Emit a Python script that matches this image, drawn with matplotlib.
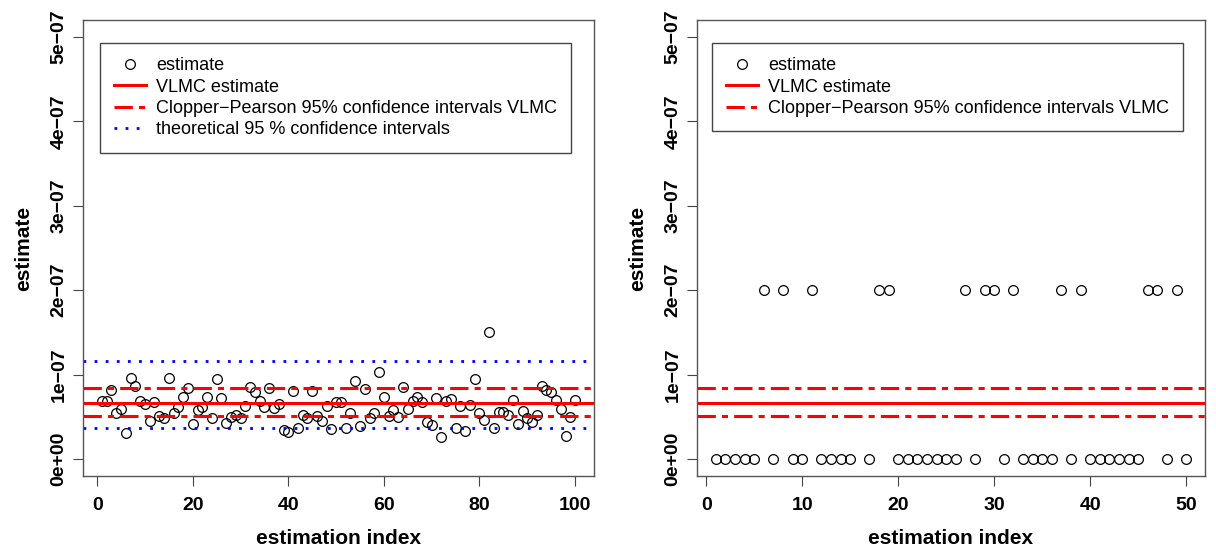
import matplotlib
matplotlib.use("Agg")
import matplotlib.pyplot as plt
from matplotlib.lines import Line2D

plt.rcParams['font.family'] = ['Liberation Sans', 'DejaVu Sans']

# ---------------- data ----------------
left_index = list(range(1, 101))
left_estimate = [
    0.692, 0.692, 0.816, 0.547, 0.597, 0.311, 0.966, 0.862, 0.692, 0.655,
    0.456, 0.671, 0.510, 0.481, 0.966, 0.551, 0.613, 0.734, 0.841, 0.414,
    0.584, 0.613, 0.734, 0.485, 0.949, 0.729, 0.427, 0.497, 0.526, 0.485,
    0.634, 0.850, 0.800, 0.692, 0.617, 0.841, 0.601, 0.655, 0.344, 0.323,
    0.808, 0.365, 0.526, 0.485, 0.808, 0.510, 0.456, 0.634, 0.352, 0.671,
    0.671, 0.373, 0.551, 0.920, 0.398, 0.825, 0.485, 0.543, 1.032, 0.738,
    0.506, 0.584, 0.493, 0.858, 0.588, 0.684, 0.734, 0.676, 0.443, 0.402,
    0.729, 0.261, 0.692, 0.709, 0.373, 0.634, 0.336, 0.642, 0.949, 0.543,
    0.468, 1.500, 0.373, 0.555, 0.555, 0.522, 0.705, 0.410, 0.572, 0.485,
    0.435, 0.522, 0.870, 0.816, 0.792, 0.700, 0.597, 0.278, 0.497, 0.705,
]
left_estimate = [v * 1e-7 for v in left_estimate]
left_vlmc = 0.66e-7
left_cp_low, left_cp_high = 0.507e-7, 0.838e-7
left_theo_low, left_theo_high = 0.373e-7, 1.156e-7

right_index = list(range(1, 51))
right_estimate = [
    0, 0, 0, 0, 0, 2, 0, 2, 0, 0,
    2, 0, 0, 0, 0, 4, 0, 2, 2, 0,
    0, 0, 0, 0, 0, 0, 2, 0, 2, 2,
    0, 2, 0, 0, 0, 0, 2, 0, 2, 0,
    0, 0, 0, 0, 0, 2, 2, 0, 2, 0,
]
right_estimate = [v * 1e-7 for v in right_estimate]
right_vlmc = 0.666e-7
right_cp_low, right_cp_high = 0.512e-7, 0.840e-7

y_ticks = [0, 1e-7, 2e-7, 3e-7, 4e-7, 5e-7]
y_ticklabels = ["0e+00", "1e\u221207", "2e\u221207", "3e\u221207", "4e\u221207", "5e\u221207"]
left_xticks = [0, 20, 40, 60, 80, 100]
right_xticks = [0, 10, 20, 30, 40, 50]

lbl_est = "estimate"
lbl_vlmc = "VLMC estimate"
lbl_cp = "Clopper\u2212Pearson 95% confidence intervals VLMC"
lbl_theo = "theoretical 95 % confidence intervals"

# ---------------- style ----------------
W, H = 1216, 549
fig = plt.figure(figsize=(W / 100, H / 100), dpi=100)

def px_axes(x0, x1, y0, y1):
    return fig.add_axes([x0 / W, 1 - y1 / H, (x1 - x0) / W, (y1 - y0) / H])

ax1 = px_axes(83, 594, 20, 476)
ax2 = px_axes(697, 1205, 20, 476)

dashdot = (0, (6, 2, 2, 2))
dotted = (0, (1, 3))
tick_fs = 14
lab_fs = 15
leg_fs = 13

def style(ax, xticks, n):
    ax.set_xlim(1 - 0.04 * (n - 1), n + 0.04 * (n - 1))
    ax.set_ylim(-0.2e-7, 5.2e-7)
    ax.set_xticks(xticks)
    ax.set_xticklabels([str(t) for t in xticks], fontsize=tick_fs, fontweight='bold')
    ax.set_yticks(y_ticks)
    ax.set_yticklabels(y_ticklabels, fontsize=tick_fs, fontweight='bold',
                       rotation=90, va='center')
    ax.tick_params(length=7, width=0.8, color='#444444')
    ax.tick_params(axis='x', pad=8)
    ax.tick_params(axis='y', pad=4)
    for s in ax.spines.values():
        s.set_color('#555555')
        s.set_linewidth(1.0)
    ax.set_xlabel("estimation index", fontsize=lab_fs, fontweight='bold', labelpad=11)
    ax.set_ylabel("estimate", fontsize=lab_fs, fontweight='bold', labelpad=13)

# left
ax1.plot(left_index, left_estimate, 'o', mfc='none', mec='black', ms=7, mew=0.9)
ax1.axhline(left_vlmc, color='red', lw=2.2)
ax1.axhline(left_cp_low, color='red', lw=2.2, ls=dashdot)
ax1.axhline(left_cp_high, color='red', lw=2.2, ls=dashdot)
ax1.axhline(left_theo_low, color='blue', lw=2.0, ls=dotted)
ax1.axhline(left_theo_high, color='blue', lw=2.0, ls=dotted)
style(ax1, left_xticks, 100)

# right
ax2.plot(right_index, right_estimate, 'o', mfc='none', mec='black', ms=7, mew=0.9)
ax2.axhline(right_vlmc, color='red', lw=2.2)
ax2.axhline(right_cp_low, color='red', lw=2.2, ls=dashdot)
ax2.axhline(right_cp_high, color='red', lw=2.2, ls=dashdot)
style(ax2, right_xticks, 50)

h_est = Line2D([], [], marker='o', ls='none', mfc='none', mec='black', ms=7, mew=0.9)
h_vlmc = Line2D([], [], color='red', lw=2.2)
h_cp = Line2D([], [], color='red', lw=2.2, ls=dashdot)
h_theo = Line2D([], [], color='blue', lw=2.0, ls=dotted)

def leg(ax, handles, labels, x0, y0):
    ax_x0, ax_x1 = ax.get_position().x0 * W, ax.get_position().x1 * W
    L = ax.legend(handles, labels, loc='upper left',
                  bbox_to_anchor=((x0 - ax_x0) / (ax_x1 - ax_x0), (476 - y0) / 456),
                  borderaxespad=0, fontsize=leg_fs, frameon=True, fancybox=False,
                  edgecolor='#444444', framealpha=1, handlelength=1.75,
                  handletextpad=0.55, labelspacing=0.24,
                  borderpad=0.79)
    L.get_frame().set_linewidth(1.0)
    return L

leg(ax1, [h_est, h_vlmc, h_cp, h_theo], [lbl_est, lbl_vlmc, lbl_cp, lbl_theo], 100, 43)
leg(ax2, [h_est, h_vlmc, h_cp], [lbl_est, lbl_vlmc, lbl_cp], 712, 43)

fig.savefig("out.png", dpi=100)
